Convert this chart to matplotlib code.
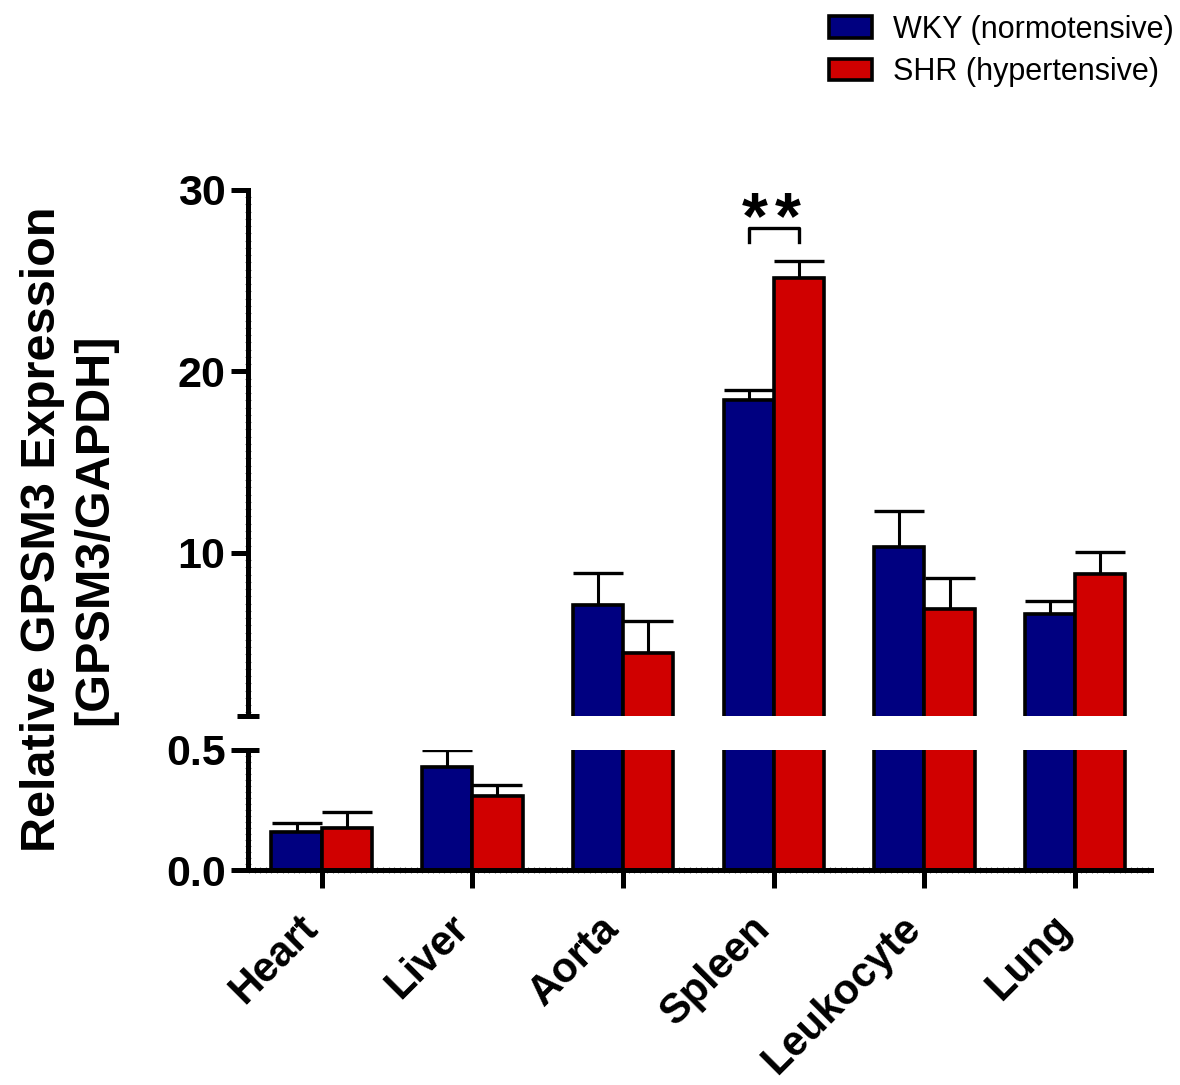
import matplotlib
import matplotlib.pyplot as plt
import numpy as np
from matplotlib.ticker import MultipleLocator
import matplotlib.transforms as mtransforms

matplotlib.use("Agg")

# data
tissues = ['Heart', 'Liver', 'Aorta', 'Spleen', 'Leukocyte', 'Lung']
wky = [0.16, 0.43, 7.1, 18.4, 10.3, 6.6]
wky_err = [0.035, 0.07, 1.8, 0.55, 2.0, 0.72]
shr = [0.175, 0.31, 4.45, 25.15, 6.9, 8.85]
shr_err = [0.067, 0.042, 1.8, 0.94, 1.72, 1.2]
labels = ['WKY (normotensive)', 'SHR (hypertensive)']

BLUE = '#000080'
RED = '#D00000'
plt.rcParams['font.family'] = ['Liberation Sans', 'DejaVu Sans']

fig = plt.figure(figsize=(11.8, 10.85), dpi=100)
ax_top = fig.add_axes([0.210, 0.340, 0.765, 0.485])
ax_bot = fig.add_axes([0.210, 0.198, 0.765, 0.111])

x = np.arange(len(tissues))
w = 1 / 3.0
spine_w = 3.6

for ax in (ax_top, ax_bot):
    ax.bar(x - w / 2, wky, w, color=BLUE, edgecolor='black', linewidth=2.6, label=labels[0], zorder=2)
    ax.bar(x + w / 2, shr, w, color=RED, edgecolor='black', linewidth=2.6, label=labels[1], zorder=2)
    ax.errorbar(x - w / 2, wky, yerr=[np.zeros(len(wky)), wky_err], fmt='none', ecolor='black',
                elinewidth=2.2, capsize=18, capthick=2.4, zorder=1)
    ax.errorbar(x + w / 2, shr, yerr=[np.zeros(len(shr)), shr_err], fmt='none', ecolor='black',
                elinewidth=2.2, capsize=18, capthick=2.4, zorder=1)
    ax.set_xlim(-0.49, 5.5)
    ax.spines['right'].set_visible(False)
    ax.spines['top'].set_visible(False)
    ax.spines['left'].set_linewidth(spine_w)
    ax.spines['bottom'].set_linewidth(spine_w)
    ax.tick_params(axis='y', which='major', direction='out', length=12, width=spine_w, labelsize=31, pad=4)
    ax.tick_params(axis='y', which='minor', direction='inout', length=5, width=0.8, color='0.45')

# top segment
ax_top.set_ylim(1, 30)
ax_top.set_yticks([10, 20, 30])
ax_top.set_yticklabels(['10', '20', '30'], fontweight='bold')
ax_top.yaxis.set_minor_locator(MultipleLocator(0.4))
ax_top.spines['bottom'].set_visible(False)
ax_top.set_xticks([])

# bottom segment
ax_bot.set_ylim(0, 0.5)
ax_bot.set_yticks([0.0, 0.5])
ax_bot.set_yticklabels(['0.0', '0.5'], fontweight='bold')
ax_bot.yaxis.set_minor_locator(MultipleLocator(0.025))
ax_bot.set_xticks(x)
ax_bot.set_xticklabels([])
ax_bot.xaxis.set_minor_locator(MultipleLocator(1 / 27.0))
ax_bot.tick_params(axis='x', which='major', direction='out', length=13, width=spine_w)
ax_bot.tick_params(axis='x', which='minor', direction='inout', length=5, width=0.8, color='0.45')

# rotated category labels, placed by hand so they sit left of the ticks
lab_tr = mtransforms.blended_transform_factory(ax_bot.transData, ax_bot.transAxes) + \
    mtransforms.ScaledTranslation(-0.10, -0.52, fig.dpi_scale_trans)
for xi, name in zip(x, tissues):
    ax_bot.text(xi, 0, name, transform=lab_tr, rotation=45, ha='right', va='center',
                rotation_mode='anchor', fontsize=30, fontweight='bold', clip_on=False)

# break marks on the y axis
dx = 11 / (0.765 * 1180)
for ax, yv in ((ax_top, 0.0), (ax_bot, 1.0)):
    tr = mtransforms.blended_transform_factory(ax.transAxes, ax.transAxes)
    ax.plot([-dx, dx], [yv, yv], color='black', lw=spine_w, transform=tr, clip_on=False,
            solid_capstyle='butt')

# significance bracket
xa, xb = 3 - w / 2, 3 + w / 2
ax_top.plot([xa, xa, xb, xb], [27.15, 27.9, 27.9, 27.15], color='black', lw=2.4, clip_on=False)
for xs in (2.875, 3.09):
    ax_top.text(xs, 27.35, '*', ha='center', va='baseline', fontsize=48, fontweight='bold', clip_on=False)

fig.text(0.058, 0.512, 'Relative GPSM3 Expression\n[GPSM3/GAPDH]', rotation=90, ha='center',
         va='center', multialignment='center', fontsize=35, fontweight='bold', linespacing=1.22)

handles, labs = ax_top.get_legend_handles_labels()
fig.legend(handles, labs, loc='upper right', bbox_to_anchor=(1.013, 1.006), frameon=False,
           fontsize=22, handlelength=1.4, handleheight=0.7, handletextpad=0.7, labelspacing=0.4,
           borderaxespad=0.3)

fig.savefig('out.png', dpi=100)
